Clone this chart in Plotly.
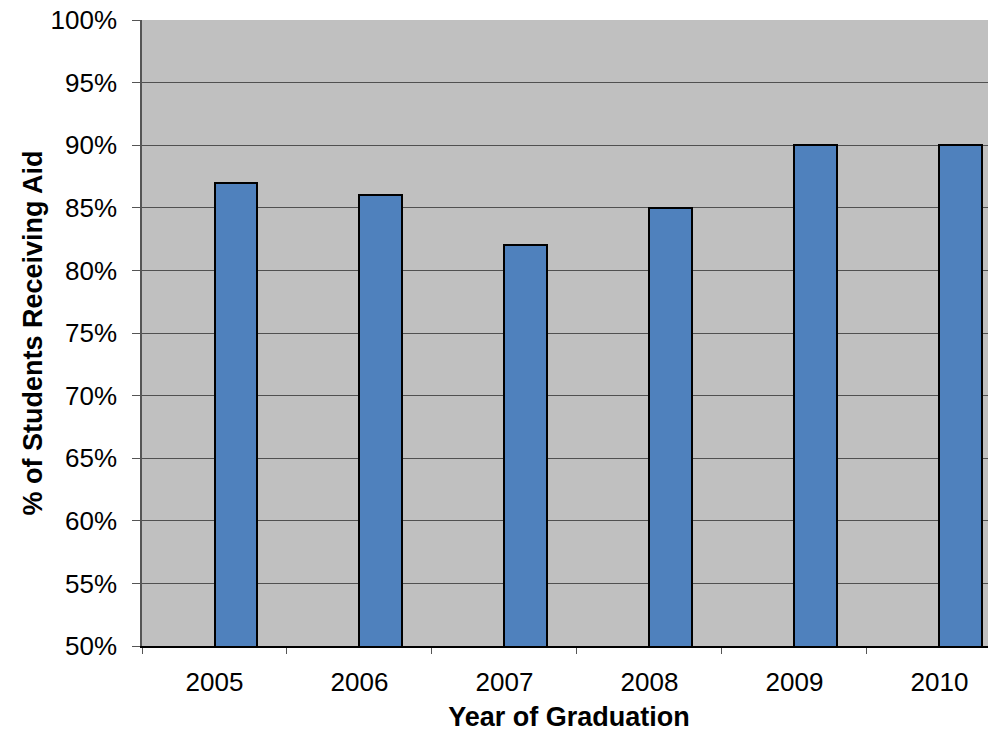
import plotly.graph_objects as go

years = ["2005", "2006", "2007", "2008", "2009", "2010"]
pct_aid = [0.87, 0.86, 0.82, 0.85, 0.90, 0.90]
y_ticks = [0.50, 0.55, 0.60, 0.65, 0.70, 0.75, 0.80, 0.85, 0.90, 0.95, 1.00]

FONT = "Liberation Sans, Arial, sans-serif"

fig = go.Figure()
fig.add_trace(go.Bar(
    x=years, y=pct_aid,
    width=0.29, offset=0,
    marker=dict(color="#4F81BD", line=dict(color="#000000", width=2)),
    hoverinfo="skip",
))

fig.update_layout(
    width=988, height=729,
    margin=dict(l=134, r=0, t=12, b=91, autoexpand=False),
    paper_bgcolor="white",
    plot_bgcolor="#C0C0C0",
    showlegend=False,
    font=dict(family=FONT, size=26, color="black"),
    bargap=0,
)

fig.update_xaxes(
    type="category",
    range=[-0.5, 5.39],
    tickson="boundaries",
    ticks="outside", ticklen=6, tickcolor="#555555", tickwidth=1,
    ticklabelstandoff=12,
    automargin=True,
    showline=True, linecolor="#000000", linewidth=1.5,
    showgrid=False,
    tickfont=dict(size=26),
    title=dict(text="<b>Year of Graduation</b>", font=dict(size=27), standoff=11),
)

fig.update_yaxes(
    range=[0.5, 1.0],
    tickvals=y_ticks,
    tickformat=".0%",
    ticks="outside", ticklen=8, tickcolor="#555555", tickwidth=1,
    ticklabelstandoff=10,
    ticklabeloverflow="allow",
    automargin=True,
    showline=True, linecolor="#555555", linewidth=1.5,
    showgrid=True, gridcolor="#505050", gridwidth=1,
    zeroline=False,
    tickfont=dict(size=26),
    title=dict(text="<b>% of Students Receiving Aid</b>", font=dict(size=27), standoff=0),
)

fig.write_html("out.html")
